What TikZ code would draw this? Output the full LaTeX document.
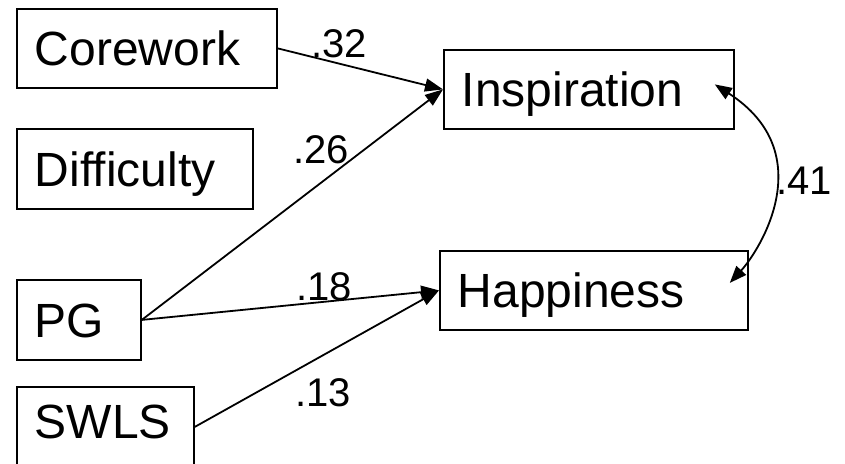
\documentclass[tikz,border=0pt]{standalone}
\usepackage{fontspec}
\setmainfont{Liberation Sans}
\usetikzlibrary{arrows.meta}
\begin{document}
\begin{tikzpicture}[x=1pt,y=-1pt,
  box/.style={draw, line width=1.8pt, anchor=north west, inner xsep=18pt, inner ysep=0pt,
    align=left, font=\fontsize{48}{52}\selectfont, text height=34.4pt, text depth=0pt},
  coef/.style={font=\fontsize{40}{44}\selectfont, inner sep=0pt},
  link/.style={line width=1.8pt, -{Triangle[length=18pt,width=13pt]}},
  dlink/.style={line width=1.8pt, {Triangle[length=17pt,width=13pt]}-{Triangle[length=17pt,width=13pt]}}
]
\useasboundingbox (0,0) rectangle (845,463);

\node[box, minimum width=260pt, minimum height=79pt, text width=224pt] (core) at (16,8) {Corework};
\node[box, minimum width=236pt, minimum height=80pt, text width=200pt] (diff) at (16,128) {Difficulty};
\node[box, minimum width=124pt, minimum height=80pt, text width=88pt] (pg) at (16,279) {PG};
\node[box, minimum width=177pt, minimum height=80pt, text width=141pt, text depth=11pt] (swls) at (16,386) {SWLS};
\node[box, minimum width=290pt, minimum height=79pt, text width=254pt] (insp) at (443,49) {Inspiration};
\node[box, minimum width=308pt, minimum height=79pt, text width=272pt] (happ) at (439,250) {Happiness};

\draw[link] (core.east) -- (insp.west);
\draw[link] (pg.east) -- (insp.west);
\draw[link] (pg.east) -- (happ.west);
\draw[link] (swls.east) -- (happ.west);
\draw[dlink] ([xshift=-20pt,yshift=5pt]insp.east) .. controls (821,153) and (760,250) .. ([xshift=-19pt,yshift=7.5pt]happ.east);

\node[coef] (c32) at (339,44) {.32};
\node[coef] (c26) at (321,150) {.26};
\node[coef] (c18) at (324,287) {.18};
\node[coef] (c13) at (323,393) {.13};
\node[coef] (c41) at (804,181) {.41};
\end{tikzpicture}
\end{document}
